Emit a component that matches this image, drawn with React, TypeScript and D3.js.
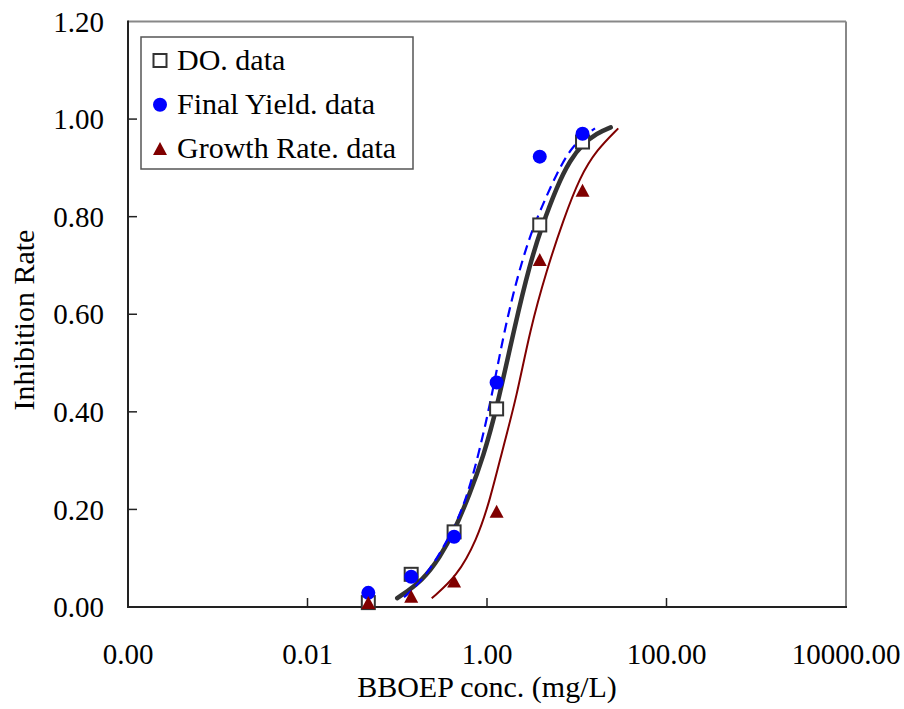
import React from "react";
import * as d3 from "d3";

// ---- data ----
const concentrations = [0.0476, 0.143, 0.43, 1.28, 3.87, 11.6];
const doData = [0.009, 0.067, 0.154, 0.406, 0.783, 0.953];
const yieldData = [0.029, 0.062, 0.144, 0.46, 0.923, 0.97];
const growthData = [0.008, 0.021, 0.052, 0.195, 0.711, 0.853];

// fitted curves: [conc, inhibition]
const doCurveX = [0.1, 0.195, 0.3, 0.421, 0.647, 0.909, 1.282, 2.05, 3.01, 4.07, 5.98, 8.41, 11.83, 16.7, 23.9];
const doCurveY = [0.018, 0.055, 0.103, 0.151, 0.233, 0.308, 0.406, 0.578, 0.704, 0.779, 0.861, 0.916, 0.95, 0.971, 0.983];
const yieldCurveX = [0.119, 0.204, 0.418, 0.647, 1.08, 1.658, 2.77, 4.07, 5.98, 9.16, 15.97];
const yieldCurveY = [0.02, 0.059, 0.154, 0.24, 0.41, 0.595, 0.745, 0.82, 0.889, 0.95, 0.981];
const growthCurveX = [0.242, 0.46, 0.768, 1.08, 1.519, 2.142, 3.014, 4.63, 7.08, 10.87, 16.7, 29.0];
const growthCurveY = [0.018, 0.062, 0.137, 0.219, 0.329, 0.431, 0.568, 0.691, 0.793, 0.882, 0.937, 0.981];

const xTicks = [0.0001, 0.01, 1, 100, 10000];
const yTicks = [0, 0.2, 0.4, 0.6, 0.8, 1.0, 1.2];
const legendLabels = ["DO. data", "Final Yield. data", "Growth Rate. data"];

const FONT = '"Liberation Serif", "Times New Roman", Times, serif';

export default function App() {
  const x = d3.scaleLog().domain([1e-4, 1e4]).range([128, 846]);
  const y = d3.scaleLinear().domain([0, 1.2]).range([607, 21.5]);

  const line = d3
    .line<[number, number]>()
    .x((d) => x(d[0]))
    .y((d) => y(d[1]))
    .curve(d3.curveBasis);

  const zip = (a: number[], b: number[]) => a.map((v, i) => [v, b[i]] as [number, number]);

  const tri = (cx: number, cy: number, s: number) =>
    `M${cx},${cy - s}L${cx + s},${cy + s * 0.85}L${cx - s},${cy + s * 0.85}Z`;

  const [x0, x1] = x.range();
  const [y0, y1] = y.range();
  const txt = { fontFamily: FONT };

  return (
    <svg
      width={904}
      height={709}
      style={{ position: "absolute", left: 0, top: 0, background: "#fff", fontFamily: FONT }}
    >
      <rect x={0} y={0} width={904} height={709} fill="#fff" />
      {/* frame */}
      <line x1={x0} y1={y1} x2={x1} y2={y1} stroke="#888" strokeWidth={2} />
      <line x1={x1} y1={y1} x2={x1} y2={y0} stroke="#888" strokeWidth={2} />
      <line x1={x0} y1={y0} x2={x1 + 1} y2={y0} stroke="#222" strokeWidth={2} />
      <line x1={x0} y1={y0 + 1} x2={x0} y2={y1 - 1} stroke="#222" strokeWidth={2} />

      {/* y ticks */}
      {yTicks.map((t) => (
        <g key={"y" + t}>
          {t > 0 && t < 1.2 && (
            <line x1={x0} x2={x0 + 9} y1={y(t)} y2={y(t)} stroke="#222" strokeWidth={1.5} />
          )}
          <text x={104} y={y(t)} dy="0.35em" textAnchor="end" fontSize={29} fill="#000" style={txt}>
            {t.toFixed(2)}
          </text>
        </g>
      ))}
      {/* x ticks */}
      {xTicks.map((t) => (
        <g key={"x" + t}>
          {t > 1e-4 && t < 1e4 && (
            <line x1={x(t)} x2={x(t)} y1={y0} y2={y0 - 9} stroke="#222" strokeWidth={1.5} />
          )}
          <text x={x(t)} y={664} textAnchor="middle" fontSize={29} fill="#000" style={txt}>
            {t.toFixed(2)}
          </text>
        </g>
      ))}

      {/* axis titles */}
      <text x={487} y={697} textAnchor="middle" fontSize={30} fill="#000" style={txt}>
        BBOEP conc. (mg/L)
      </text>
      <text
        transform={`translate(34,320) rotate(-90)`}
        textAnchor="middle"
        fontSize={30}
        fill="#000"
        style={txt}
      >
        Inhibition Rate
      </text>

      {/* curves */}
      <path d={line(zip(growthCurveX, growthCurveY)) || ""} fill="none" stroke="#800000" strokeWidth={2} />
      <path d={line(zip(doCurveX, doCurveY)) || ""} fill="none" stroke="#333" strokeWidth={4.5} strokeLinecap="round" />
      <path d={line(zip(yieldCurveX, yieldCurveY)) || ""} fill="none" stroke="#0000ff" strokeWidth={2.2} strokeDasharray="10,6" />

      {/* markers */}
      {concentrations.map((c, i) => (
        <rect key={"s" + i} x={x(c) - 6.5} y={y(doData[i]) - 6.5} width={13} height={13} fill="#fff" stroke="#333" strokeWidth={2} />
      ))}
      {concentrations.map((c, i) => (
        <circle key={"c" + i} cx={x(c)} cy={y(yieldData[i])} r={7} fill="#0000ff" />
      ))}
      {concentrations.map((c, i) => (
        <path key={"t" + i} d={tri(x(c), y(growthData[i]), 7)} fill="#800000" />
      ))}

      {/* legend */}
      <rect x={141} y={37} width={272} height={132} fill="#fff" stroke="#555" strokeWidth={1.5} />
      <rect x={153.5} y={54} width={13} height={13} fill="#fff" stroke="#333" strokeWidth={2} />
      <circle cx={160} cy={104.7} r={7} fill="#0000ff" />
      <path d={tri(160, 149, 7)} fill="#800000" />
      {legendLabels.map((l, i) => (
        <text key={l} x={177} y={70 + i * 44} fontSize={30} fill="#000" style={txt}>
          {l}
        </text>
      ))}
    </svg>
  );
}
